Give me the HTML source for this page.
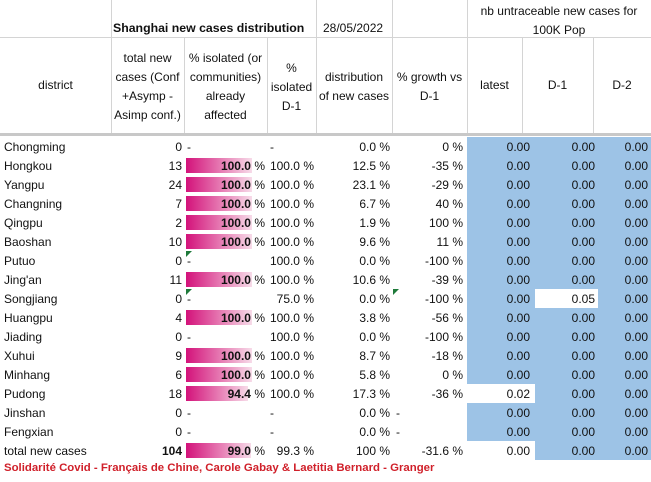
<!DOCTYPE html>
<html><head><meta charset="utf-8"><style>
body{margin:0;width:651px;height:482px;background:#fff;overflow:hidden;font-family:"Liberation Sans",sans-serif;font-size:12px;color:#111;position:relative}
div{position:absolute;white-space:nowrap}
.r{text-align:right}.c{text-align:center}
.vl{background:#d4d4d4;width:1px}
.hl{background:#d4d4d4;height:1px}
.bar{background:linear-gradient(90deg,#d3127a,#e98abb 60%,#f7dbe9);height:15px}
.tri{width:0;height:0;border-top:6px solid #1e7a3a;border-right:6px solid transparent}
</style></head><body>
<div class="hl" style="left:0;top:37px;width:651px"></div>
<div class="hl" style="left:0;top:133px;width:651px;height:3px;background:#c8c8c8"></div>
<div class="vl" style="left:111px;top:0;height:133px"></div>
<div class="vl" style="left:184px;top:37px;height:96px"></div>
<div class="vl" style="left:267px;top:37px;height:96px"></div>
<div class="vl" style="left:316px;top:0;height:133px"></div>
<div class="vl" style="left:392px;top:0;height:133px"></div>
<div class="vl" style="left:467px;top:0;height:133px"></div>
<div class="vl" style="left:522px;top:37px;height:96px"></div>
<div class="vl" style="left:593px;top:37px;height:96px"></div>
<div style="left:113px;top:21px;font-weight:bold;font-size:12.3px">Shanghai new cases distribution</div>
<div style="left:323px;top:21px">28/05/2022</div>
<div class="c" style="left:467px;top:2px;width:184px;line-height:19px">nb untraceable new cases for<br>100K Pop</div>
<div class="c" style="left:0;top:78px;width:111px">district</div>
<div class="c" style="left:111px;top:49px;width:73px;line-height:19px">total new<br>cases (Conf<br>+Asymp -<br>Asimp conf.)</div>
<div class="c" style="left:184px;top:49px;width:83px;line-height:19px">% isolated (or<br>communities)<br>already<br>affected</div>
<div class="c" style="left:267px;top:59px;width:49px;line-height:19px">%<br>isolated<br>D-1</div>
<div class="c" style="left:316px;top:68px;width:76px;line-height:19px">distribution<br>of new cases</div>
<div class="c" style="left:392px;top:68px;width:75px;line-height:19px">% growth vs<br>D-1</div>
<div class="c" style="left:467px;top:78px;width:55px">latest</div>
<div class="c" style="left:522px;top:78px;width:71px">D-1</div>
<div class="c" style="left:593px;top:78px;width:58px">D-2</div>
<div style="left:467px;top:137px;width:184px;height:323px;background:#9dc3e6"></div>
<div id="rows"></div>
<div style="left:4px;top:462px;color:#d0202a;font-weight:bold;font-size:11.4px">Solidarité Covid - Français de Chine, Carole Gabay &amp; Laetitia Bernard - Granger</div>
<script>
var d=[["Chongming","0","-","-","0.0 %","0 %"],["Hongkou","13","100","100.0 %","12.5 %","-35 %"],["Yangpu","24","100","100.0 %","23.1 %","-29 %"],["Changning","7","100","100.0 %","6.7 %","40 %"],["Qingpu","2","100","100.0 %","1.9 %","100 %"],["Baoshan","10","100","100.0 %","9.6 %","11 %"],["Putuo","0","-","100.0 %","0.0 %","-100 %"],["Jing'an","11","100","100.0 %","10.6 %","-39 %"],["Songjiang","0","-","75.0 %","0.0 %","-100 %"],["Huangpu","4","100","100.0 %","3.8 %","-56 %"],["Jiading","0","-","100.0 %","0.0 %","-100 %"],["Xuhui","9","100","100.0 %","8.7 %","-18 %"],["Minhang","6","100","100.0 %","5.8 %","0 %"],["Pudong","18","94.4","100.0 %","17.3 %","-36 %"],["Jinshan","0","-","-","0.0 %","-"],["Fengxian","0","-","-","0.0 %","-"],["total new cases","104","99.0","99.3 %","100 %","-31.6 %"]];
var h="";
d.forEach(function(r,i){var t=137+i*19,ty=t+3,b=i==16?"font-weight:bold;":"";
h+='<div style="left:4px;top:'+ty+'px">'+r[0]+'</div>';
h+='<div class="r" style="left:120px;width:62px;top:'+ty+'px;'+b+'">'+r[1]+'</div>';
if(r[2]=="-")h+='<div style="left:187px;top:'+ty+'px">-</div>';
else{var w=Math.round(66*parseFloat(r[2])/100);h+='<div class="bar" style="left:186px;top:'+(t+2)+'px;width:'+w+'px"></div><div class="r" style="left:190px;width:75px;top:'+ty+'px"><b>'+(r[2]=="100"?"100.0":r[2])+'</b> %</div>';}
if(r[3]=="-")h+='<div style="left:270px;top:'+ty+'px">-</div>';else h+='<div class="r" style="left:260px;width:54px;top:'+ty+'px">'+r[3]+'</div>';
h+='<div class="r" style="left:320px;width:70px;top:'+ty+'px">'+r[4]+'</div>';
if(r[5]=="-")h+='<div style="left:396px;top:'+ty+'px">-</div>';else h+='<div class="r" style="left:395px;width:68px;top:'+ty+'px">'+r[5]+'</div>';
var la="0.00",d1="0.00";
if(i==13){la="0.02";h+='<div style="left:467px;top:'+t+'px;width:68px;height:19px;background:#fff"></div>';}
if(i==16)h+='<div style="left:467px;top:'+t+'px;width:68px;height:19px;background:#fff"></div>';
if(i==8){d1="0.05";h+='<div style="left:535px;top:'+t+'px;width:63px;height:19px;background:#fff"></div>';}
h+='<div class="r" style="left:470px;width:60px;top:'+ty+'px">'+la+'</div>';
h+='<div class="r" style="left:535px;width:60px;top:'+ty+'px">'+d1+'</div>';
h+='<div class="r" style="left:598px;width:50px;top:'+ty+'px">0.00</div>';
});
h+='<div class="tri" style="left:186px;top:251px"></div><div class="tri" style="left:186px;top:289px"></div><div class="tri" style="left:393px;top:289px"></div>';
document.getElementById("rows").outerHTML=h;
</script>
</body></html>
